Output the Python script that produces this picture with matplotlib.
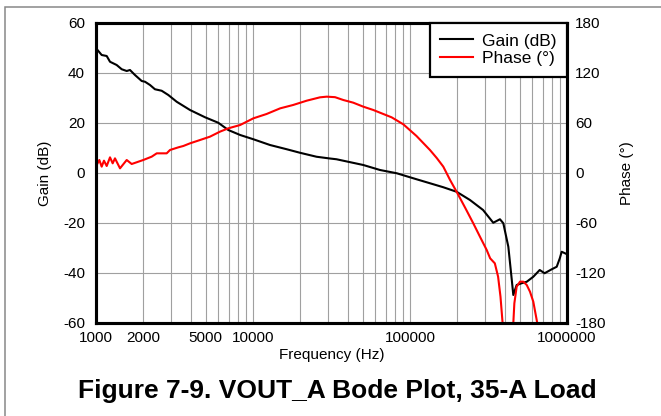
import numpy as np
import matplotlib
matplotlib.use('Agg')
import matplotlib.pyplot as plt
from matplotlib.ticker import LogLocator, NullFormatter, FixedLocator, FixedFormatter
from matplotlib.patches import Rectangle

plt.rcParams['font.family'] = ['Liberation Sans', 'DejaVu Sans']
plt.rcParams['axes.unicode_minus'] = False

# gain curve (Hz, dB)
gain_freq = [1000, 1010, 1087, 1170, 1228, 1354, 1458, 1569, 1646, 1771, 1955, 2052, 2208, 2374,
             2620, 2888, 3265, 3970, 4946, 6009, 6960, 8283, 10050, 12830, 16400, 19900, 25400,
             30900, 34000, 50400, 64400, 82300, 110000, 134000, 163000, 198000, 241000, 292000,
             339000, 374000, 393000, 423000, 445000, 455000, 478000, 514000, 554000, 610000,
             670000, 720000, 800000, 860000, 900000, 925000, 970000, 1000000]
gain_db = [50.0, 49.6, 47.2, 46.8, 44.5, 43.2, 41.5, 40.8, 41.2, 39.2, 36.8, 36.5, 35.2, 33.5,
           32.9, 31.2, 28.5, 25.2, 22.3, 20.1, 17.2, 15.2, 13.5, 11.2, 9.5, 8.1, 6.5,
           5.8, 5.5, 3.2, 1.2, -0.1, -2.5, -4.1, -5.7, -7.5, -10.8, -14.8,
           -19.9, -18.5, -20.1, -29.5, -42.8, -48.8, -44.8, -44.1, -43.5, -41.5,
           -38.8, -40.1, -38.5, -37.5, -34.1, -31.5, -32.1, -32.5]

# phase curve (Hz, degrees); NaN where the trace runs off the bottom
phase_freq = [1000, 1010, 1050, 1087, 1124, 1170, 1228, 1277, 1321, 1422, 1569, 1688, 2000,
              2263, 2437, 2820, 2960, 3346, 3598, 3970, 4600, 5320, 6160, 6960, 8283, 10050,
              12200, 14900, 18000, 22000, 26700, 29500, 33300, 37600, 43500, 50400, 58400,
              67600, 76400, 90700, 110000, 134000, 148000, 163000, 180000, 198000, 225000,
              253000, 280000, 308000, 324000, 347000, 364000, 377000, 389000, 395000, 420000,
              450000, 455000, 462000, 478000, 502000, 527000, 554000, 581000, 610000, 647000,
              660000]
phase_deg = [12, 9.6, 15.6, 7.6, 14.8, 8.4, 18.8, 11.6, 17.6, 5.6, 15.6, 10.8, 15.6,
             19.6, 23.6, 23.6, 27.6, 30.8, 32.4, 35.6, 39.6, 43.6, 49.6, 53.6, 57.6, 65.6,
             70.8, 77.6, 81.6, 86.8, 90.8, 91.6, 91.0, 87.6, 84.4, 79.6, 75.6,
             70.8, 66.8, 58.4, 44.4, 27.6, 18.0, 7.6, -8.4, -22.4, -42.0,
             -60.4, -77.0, -92.4, -102.4, -108.4, -124.4, -148.4, -180.4, -200, np.nan,
             -200, -180.4, -156.4, -136.4, -130.4, -130.4, -134.4, -142.4, -154.4, -180.4,
             -200]

xtick_vals = [1000, 2000, 5000, 10000, 100000, 1000000]
gain_ticks = [-60, -40, -20, 0, 20, 40, 60]
phase_ticks = [-180, -120, -60, 0, 60, 120, 180]

fig = plt.figure(figsize=(6.61, 4.16), dpi=100)
ax = fig.add_axes([96 / 661, 1 - 323 / 416, 471 / 661, 300 / 416])
ax2 = ax.twinx()

l1, = ax.plot(gain_freq, gain_db, color='black', lw=1.5, label='Gain (dB)')
l2, = ax2.plot(phase_freq, phase_deg, color='#ff0000', lw=1.5, label='Phase (°)')

ax.set_xscale('log')
ax.set_xlim(1000, 1000000)
ax.set_ylim(-60, 60)
ax2.set_ylim(-180, 180)

ax.xaxis.set_major_locator(FixedLocator(xtick_vals))
ax.xaxis.set_major_formatter(FixedFormatter([str(v) for v in xtick_vals]))
ax.xaxis.set_minor_locator(LogLocator(base=10, subs=np.arange(1, 10), numticks=20))
ax.xaxis.set_minor_formatter(NullFormatter())
ax.set_yticks(gain_ticks)
ax2.set_yticks(phase_ticks)

ax.grid(True, which='both', axis='x', color='#a0a0a0', lw=0.8)
ax.grid(True, which='major', axis='y', color='#a0a0a0', lw=0.8)
ax.set_axisbelow(True)

for a in (ax, ax2):
    a.tick_params(which='both', length=0, labelsize=11)
    for s in a.spines.values():
        s.set_linewidth(2.2)
ax.tick_params(axis='y', pad=8)
ax.tick_params(axis='x', pad=6)
ax2.tick_params(axis='y', pad=6)

ax.set_xlabel('Frequency (Hz)', fontsize=11, labelpad=2)
ax.set_ylabel('Gain (dB)', fontsize=11, labelpad=8)
ax2.set_ylabel('Phase (°)', fontsize=11, labelpad=10)

leg = ax2.legend(handles=[l1, l2], loc='upper right', fontsize=12.5, fancybox=False,
                 framealpha=1, edgecolor='black', borderaxespad=0, handlelength=1.9,
                 handletextpad=0.5, borderpad=0.6, labelspacing=0.15)
leg.get_frame().set_linewidth(1.6)

fig.text(337 / 661, 1 - 398 / 416, 'Figure 7-9. VOUT_A Bode Plot, 35-A Load',
         ha='center', va='baseline', fontsize=19, fontweight='bold')

# outer frame, cut by the image edge on the right and bottom
fig.patches.append(Rectangle((5 / 661, -0.2), 1.5, 1.2 - 7 / 416, transform=fig.transFigure,
                             fill=False, edgecolor='#888888', lw=1.1))

fig.savefig('out.png', dpi=100)
